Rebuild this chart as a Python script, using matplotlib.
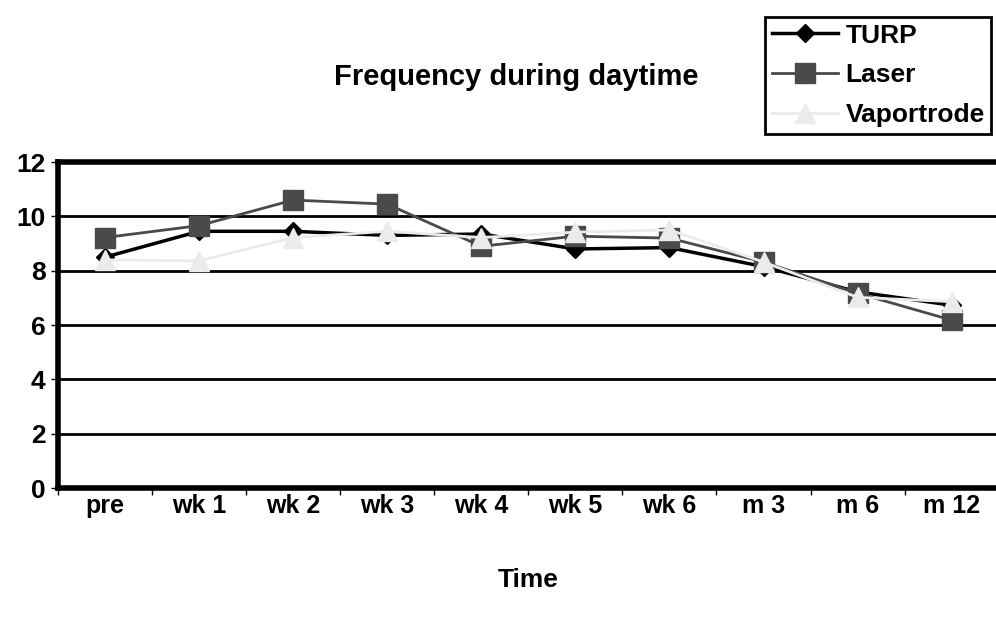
import matplotlib.pyplot as plt
from matplotlib.ticker import FixedLocator

plt.rcParams['font.family'] = ['Liberation Sans', 'DejaVu Sans']
plt.rcParams['font.weight'] = 'bold'

categories = ['pre', 'wk 1', 'wk 2', 'wk 3', 'wk 4', 'wk 5', 'wk 6', 'm 3', 'm 6', 'm 12']
turp = [8.5, 9.45, 9.45, 9.3, 9.35, 8.8, 8.85, 8.15, 7.22, 6.73]
laser = [9.22, 9.66, 10.6, 10.45, 8.9, 9.27, 9.2, 8.32, 7.17, 6.18]
vaportrode = [8.4, 8.36, 9.22, 9.45, 9.22, 9.42, 9.5, 8.32, 7.02, 6.86]

fig = plt.figure(figsize=(9.96, 6.22), dpi=100)
ax = fig.add_axes([0.0582, 0.2154, 0.9445, 0.5241])

x = [i + 0.5 for i in range(len(categories))]

ax.plot(x, turp, color='black', lw=2.5, marker='D', markersize=9,
        label='TURP', zorder=3)
ax.plot(x, laser, color='#4a4a4a', lw=2, marker='s', markersize=14,
        label='Laser', zorder=4)
ax.plot(x, vaportrode, color='#ebebeb', lw=2, marker='^', markersize=15,
        label='Vaportrode', zorder=5)

ax.set_xlim(0, len(categories))
ax.set_ylim(0, 12)
ax.set_yticks(range(0, 13, 2))
ax.yaxis.grid(True, color='black', lw=2)
ax.set_axisbelow(True)

ax.xaxis.set_major_locator(FixedLocator(range(0, len(categories) + 1)))
ax.xaxis.set_minor_locator(FixedLocator(x))
ax.set_xticklabels([], minor=False)
ax.set_xticklabels(categories, minor=True)
ax.tick_params(axis='x', which='major', length=5, width=1, direction='out')
ax.tick_params(axis='x', which='minor', length=0, pad=4, labelsize=18)
ax.tick_params(axis='y', length=5, width=1, pad=4, labelsize=19)

for side in ['left', 'bottom', 'top', 'right']:
    ax.spines[side].set_linewidth(4)
    ax.spines[side].set_color('black')

ax.set_xlabel('Time', fontsize=19, fontweight='bold', labelpad=36)
fig.text(0.518, 0.877, 'Frequency during daytime', ha='center', va='center',
         fontsize=21, fontweight='bold')

leg = ax.legend(loc='upper left', bbox_to_anchor=(765 / 996, 1 - 17 / 622),
                bbox_transform=fig.transFigure, fancybox=False, framealpha=1,
                edgecolor='black', fontsize=19, handlelength=2.5,
                borderpad=0.25, labelspacing=0.6, handletextpad=0.3,
                borderaxespad=0)
leg.get_frame().set_linewidth(2)
for t in leg.get_texts():
    t.set_fontweight('bold')

fig.savefig('out.png', dpi=100)
